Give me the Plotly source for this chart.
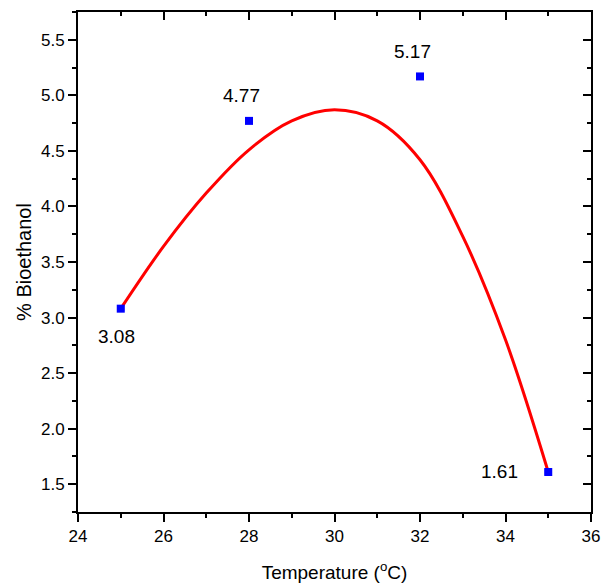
import plotly.graph_objects as go

# measured points
temperature = [25, 28, 32, 35]
bioethanol = [3.08, 4.77, 5.17, 1.61]
point_labels = ["3.08", "4.77", "5.17", "1.61"]

# fitted curve
fit_temperature = [25, 26, 27, 28, 29, 30, 31, 32, 33, 34, 35]
fit_bioethanol = [3.08, 3.64, 4.12, 4.51, 4.77, 4.87, 4.77, 4.42, 3.73, 2.80, 1.61]

# label offsets in pixels (x, y)
label_shift = [(-4, -28), (-8, 25), (-8, 25), (-49, 1)]

font_name = "Liberation Sans, Arial, sans-serif"

fig = go.Figure()

fig.add_trace(go.Scatter(
    x=fit_temperature, y=fit_bioethanol,
    mode="lines", line=dict(color="#ff0000", width=3, shape="spline", smoothing=1.0),
    showlegend=False, hoverinfo="skip",
))

fig.add_trace(go.Scatter(
    x=temperature, y=bioethanol,
    mode="markers",
    marker=dict(symbol="square", size=8, color="#0000ff", line=dict(width=0)),
    error_y=dict(type="constant", value=0.025, thickness=7, width=0, color="#0000ff"),
    showlegend=False,
))

# invisible copy so the top / right frame axes get drawn
fig.add_trace(go.Scatter(
    x=temperature, y=bioethanol, xaxis="x2", yaxis="y2",
    mode="markers", marker=dict(opacity=0), showlegend=False, hoverinfo="skip",
))

for t, b, txt, (dx, dy) in zip(temperature, bioethanol, point_labels, label_shift):
    fig.add_annotation(x=t, y=b, text=txt, showarrow=False,
                       xshift=dx, yshift=dy,
                       font=dict(family=font_name, size=19, color="black"))

axis_common = dict(showgrid=False, zeroline=False, showline=True,
                   linecolor="black", linewidth=2, automargin=False)

fig.update_layout(
    width=601, height=585,
    paper_bgcolor="white", plot_bgcolor="white",
    margin=dict(l=78, r=10, t=12, b=73),
    font=dict(family=font_name, size=17, color="black"),
    xaxis=dict(
        range=[24, 36], tickmode="linear", tick0=24, dtick=2,
        ticks="outside", ticklen=8, tickwidth=2, tickcolor="black",
        minor=dict(ticks="outside", ticklen=4, tickwidth=2, dtick=1, tick0=24, tickcolor="black"),
        title=dict(text="Temperature (<sup>o</sup>C)", font=dict(size=19), standoff=20),
        **axis_common,
    ),
    yaxis=dict(
        range=[1.25, 5.75], tickmode="linear", tick0=1.5, dtick=0.5,
        tickformat=".1f",
        ticks="outside", ticklen=8, tickwidth=2, tickcolor="black",
        minor=dict(ticks="outside", ticklen=4, tickwidth=2, dtick=0.25, tick0=1.25, tickcolor="black"),
        title=dict(text="% Bioethanol", font=dict(size=20), standoff=4),
        **axis_common,
    ),
    xaxis2=dict(
        overlaying="x", side="top", matches="x", range=[24, 36],
        tickmode="linear", tick0=24, dtick=2, showticklabels=False,
        ticks="inside", ticklen=8, tickwidth=2, tickcolor="black",
        minor=dict(ticks="inside", ticklen=4, tickwidth=2, dtick=1, tick0=24, tickcolor="black"),
        **axis_common,
    ),
    yaxis2=dict(
        overlaying="y", side="right", matches="y", range=[1.25, 5.75],
        tickmode="linear", tick0=1.5, dtick=0.5, showticklabels=False,
        ticks="inside", ticklen=8, tickwidth=2, tickcolor="black",
        minor=dict(ticks="inside", ticklen=4, tickwidth=2, dtick=0.25, tick0=1.25, tickcolor="black"),
        **axis_common,
    ),
)

fig.write_html("out.html", config={"displayModeBar": False},
               post_script="document.body.style.margin='0';")
